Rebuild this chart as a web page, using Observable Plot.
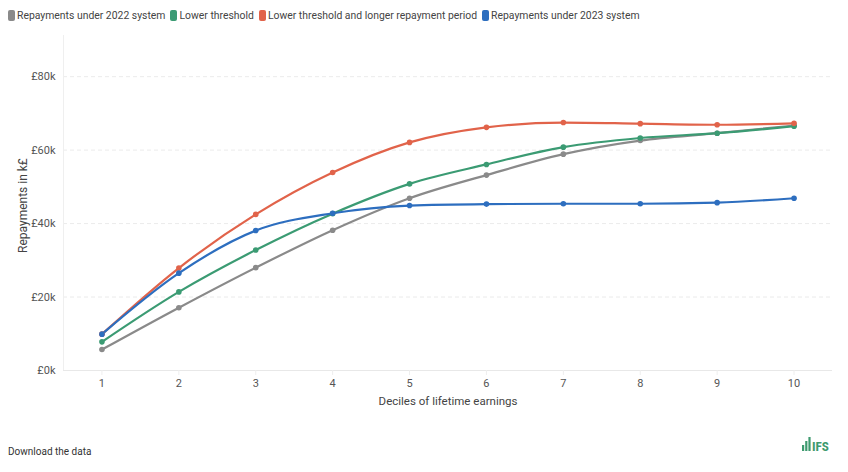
<!DOCTYPE html>
<html>
<head>
<meta charset="utf-8">
<script src="https://cdn.jsdelivr.net/npm/d3@7"></script>
<script src="https://cdn.jsdelivr.net/npm/@observablehq/plot@0.6"></script>
<style>
  html, body { margin: 0; padding: 0; background: #fff; width: 848px; height: 472px; overflow: hidden; font-family: Roboto, "Open Sans", sans-serif; }
  #legend { position: absolute; left: 8px; top: 9px; display: flex; gap: 5px; font-size: 10.4px; color: #444; white-space: nowrap; }
  .item { display: flex; align-items: center; gap: 2px; }
  .sw { width: 7px; height: 11px; border-radius: 2px; display: inline-block; }
  #chart { position: absolute; left: 0; top: 28px; }
  #dl { position: absolute; left: 8px; top: 446px; font-size: 10px; color: #333; }
  #logo { position: absolute; left: 800px; top: 434px; }
</style>
</head>
<body>
<div id="legend"></div>
<div id="chart"></div>
<div id="dl">Download the data</div>
<svg id="logo" width="36" height="22">
  <rect x="2" y="11" width="2.2" height="6" fill="#3e9a6f"/>
  <rect x="5.2" y="7" width="2.2" height="10" fill="#3e9a6f"/>
  <rect x="8.4" y="3" width="2.2" height="14" fill="#3e9a6f"/>
  <text x="12" y="17" font-family="Roboto Condensed, Roboto, sans-serif" font-weight="700" font-size="13" fill="#3e9a6f" textLength="17" lengthAdjust="spacingAndGlyphs">IFS</text>
</svg>
<script>
const deciles = [1, 2, 3, 4, 5, 6, 7, 8, 9, 10];
const seriesNames = [
  "Repayments under 2022 system",
  "Lower threshold",
  "Lower threshold and longer repayment period",
  "Repayments under 2023 system"
];
const seriesColors = ["#8a8a8a", "#3b9b73", "#e1634a", "#2d6ebf"];
const repay2022 = [5.7, 17.1, 28.0, 38.2, 46.9, 53.2, 58.9, 62.6, 64.6, 66.7];
const lowerThreshold = [7.8, 21.4, 32.8, 42.7, 50.8, 56.1, 60.8, 63.3, 64.6, 66.5];
const lowerLonger = [9.9, 27.9, 42.5, 53.9, 62.1, 66.2, 67.5, 67.2, 66.9, 67.3];
const repay2023 = [9.9, 26.5, 38.1, 42.8, 44.9, 45.3, 45.4, 45.4, 45.7, 46.9];
const yTicks = [0, 20, 40, 60, 80];

const seriesValues = [repay2022, lowerThreshold, lowerLonger, repay2023];
const data = [];
seriesNames.forEach((name, i) => {
  deciles.forEach((d, j) => data.push({series: name, decile: d, value: seriesValues[i][j]}));
});

// legend
const legend = document.getElementById("legend");
seriesNames.forEach((name, i) => {
  const it = document.createElement("div");
  it.className = "item";
  it.innerHTML = `<span class="sw" style="background:${seriesColors[i]}"></span><span>${name}</span>`;
  legend.appendChild(it);
});

const chart = Plot.plot({
  width: 848,
  height: 400,
  marginLeft: 63,
  marginRight: 16,
  marginTop: 7,
  marginBottom: 58,
  style: {fontFamily: "Roboto, sans-serif", fontSize: "11px", color: "#555", background: "#fff"},
  x: {domain: [0.5, 10.5], ticks: deciles, tickFormat: d => String(d)},
  y: {domain: [0, 91.2], ticks: yTicks},
  color: {domain: seriesNames, range: seriesColors},
  marks: [
    Plot.gridY(yTicks.filter(t => t > 0), {stroke: "#e6e6e6", strokeOpacity: 1, strokeDasharray: "4,3", strokeWidth: 0.8}),
    Plot.ruleY([0], {stroke: "#e8e8e8", strokeWidth: 1}),
    Plot.ruleX([0.5], {stroke: "#efefef", strokeWidth: 1}),
    Plot.axisY({ticks: yTicks, tickSize: 0, tickPadding: 8, tickFormat: d => `£${d}k`, label: null, fill: "#555"}),
    Plot.axisX({ticks: deciles, tickSize: 5, stroke: "#eee", tickPadding: 4, label: null, fill: "#555"}),
    Plot.text(["Deciles of lifetime earnings"], {frameAnchor: "bottom", dy: 34, fontSize: 11.5, fill: "#444"}),
    Plot.text(["Repayments in k£"], {x: 0.5, y: 44.9, rotate: -90, dx: -40, fontSize: 12, fill: "#444"}),
    Plot.line(data, {x: "decile", y: "value", z: "series", stroke: "series", strokeWidth: 2.2, curve: "monotone-x"}),
    Plot.dot(data, {x: "decile", y: "value", fill: "series", r: 2.8})
  ]
});
document.getElementById("chart").appendChild(chart);
</script>
</body>
</html>
